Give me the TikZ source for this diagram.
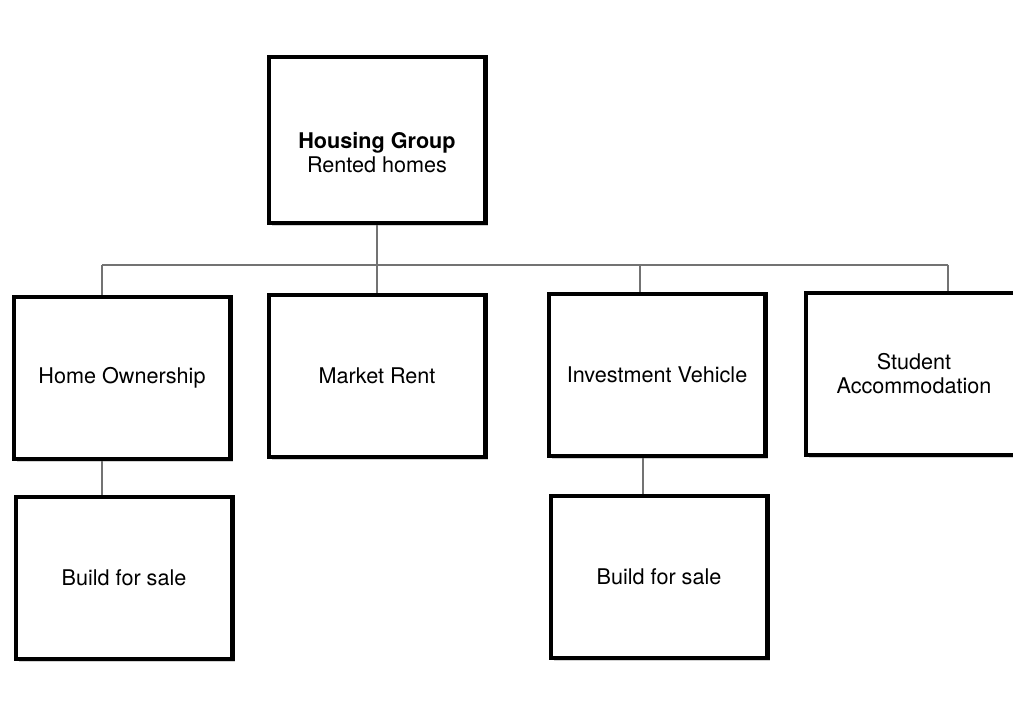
\documentclass[tikz,border=0pt]{standalone}
\usepackage{fontspec}
\setmainfont{TeX Gyre Heros}
\usetikzlibrary{shadows}

\tikzset{
	box/.style = {draw, line width=2.3pt, fill=white, minimum width=4.34cm, minimum height=3.24cm, align=center, font=\fontsize{12.3}{13.6}\selectfont, drop shadow={shadow xshift=0.06cm, shadow yshift=-0.06cm, opacity=0.35}},
	link/.style = {draw=black!55, line width=0.6pt}
}

\begin{document}
\begin{tikzpicture}[x=0.02cm,y=-0.02cm]
		\clip (0,0) rectangle (1013,719);
		\fill[white] (0,0) rectangle (1013,719);
		%top of the tree
		\node[box, minimum height=3.32cm] (group) at (377,140) {};
		\node[align=center, font=\fontsize{12.3}{13.6}\selectfont] (groupText) at ([yshift=-0.26cm]group.center) {\textbf{Housing Group}\\Rented homes};
		%second row
		\node[box] (own) at (122,378) {Home Ownership};
		\node[box] (rent) at (377,376) {Market Rent};
		\node[box] (invest) at (657,375) {Investment Vehicle};
		\node[box] (student) at (914,374) {Student\\Accommodation};
		%third row
		\node[box] (saleA) at (124,578) {Build for sale};
		\node[box] (saleB) at (659,577) {Build for sale};
		%bus line
		\coordinate (busL) at (102,265);
		\coordinate (busR) at (948,265);
		\coordinate (busI) at (640,265);
		\coordinate (dropA) at (102,477);
		\coordinate (dropB) at (643,477);
		\draw[link] (busL) -- (busR);
		\draw[link] (group.south) -- (rent.north);
		\draw[link] (busL) -- (own.north -| busL);
		\draw[link] (busI) -- (invest.north -| busI);
		\draw[link] (busR) -- (student.north -| busR);
		\draw[link] (own.south -| dropA) -- (saleA.north -| dropA);
		\draw[link] (invest.south -| dropB) -- (saleB.north -| dropB);
	\end{tikzpicture}
\end{document}
